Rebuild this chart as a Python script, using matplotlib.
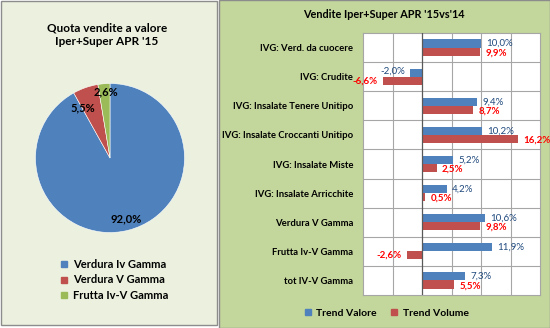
import matplotlib
matplotlib.use("Agg")
import matplotlib.pyplot as plt
from matplotlib.patches import Rectangle
from matplotlib.lines import Line2D
import numpy as np

plt.rcParams['font.family'] = ['Lato', 'DejaVu Sans']

# ---- data ----
pie_labels = ["Verdura Iv Gamma", "Verdura V Gamma", "Frutta Iv-V Gamma"]
pie_values = [92.0, 5.5, 2.6]
pie_colors = ["#4F81BD", "#C0504D", "#9BBB59"]

categories = ["IVG: Verd. da cuocere", "IVG: Crudite", "IVG: Insalate Tenere Unitipo",
              "IVG: Insalate Croccanti Unitipo", "IVG: Insalate Miste",
              "IVG: Insalate Arricchite", "Verdura V Gamma", "Frutta Iv-V Gamma",
              "tot IV-V Gamma"]
trend_valore = [10.0, -2.0, 9.4, 10.2, 5.2, 4.2, 10.6, 11.9, 7.3]
trend_volume = [9.9, -6.6, 8.7, 16.2, 2.5, 0.5, 9.8, -2.6, 5.5]
series_names = ["Trend Valore", "Trend Volume"]

W, H = 550, 328
fig = plt.figure(figsize=(W / 100, H / 100), dpi=100)
fig.patch.set_facecolor("white")

def fx(px): return px / W
def fy(py): return 1 - py / H

# panels
fig.patches.append(Rectangle((fx(0.5), fy(325)), fx(217) - fx(0.5), fy(0.5) - fy(325),
                             transform=fig.transFigure, facecolor="#EBF1DE",
                             edgecolor="#8C8C8C", lw=1, zorder=-5))
fig.patches.append(Rectangle((fx(219), fy(327.5)), fx(549.5) - fx(219), fy(0.5) - fy(327.5),
                             transform=fig.transFigure, facecolor="#C3D69B",
                             edgecolor="#8C8C8C", lw=1, zorder=-5))

# ---- pie ----
axp = fig.add_axes([fx(34), fy(234), 152 / W, 152 / H])
axp.set_aspect('equal')
wedges, _, autotexts = axp.pie(pie_values, colors=pie_colors, startangle=90, counterclock=False,
                               autopct=lambda p: "", pctdistance=0.85,
                               wedgeprops=dict(edgecolor="white", linewidth=0.4))
# label placement (angle shift in degrees, radius) like Excel "best fit"
label_place = [(0, 0.85), (9, 0.77), (-1, 0.89)]
for w, at, v, (da, r) in zip(wedges, autotexts, pie_values, label_place):
    ang = np.deg2rad((w.theta1 + w.theta2) / 2 + da)
    at.set_position((r * np.cos(ang), r * np.sin(ang)))
    at.set_text(f"{v:.1f}%".replace('.', ','))
    at.set_fontsize(8)
    at.set_fontweight('bold')
    at.set_color('black')
axp.set_xlim(-1.02, 1.02)
axp.set_ylim(-1.02, 1.02)

fig.text(fx(107), fy(35), "Quota vendite a valore\nIper+Super APR '15", ha='center', va='center',
         fontsize=8.5, fontweight='bold', linespacing=1.3)

handles = [Line2D([], [], marker='s', ls='none', color=c, markersize=5) for c in pie_colors]
fig.legend(handles, pie_labels, loc='upper left', bbox_to_anchor=(fx(60), fy(259)),
           frameon=False, handlelength=0.8, handletextpad=0.4,
           labelspacing=0.4, borderaxespad=0, borderpad=0,
           prop=dict(weight='bold', size=8))

# ---- bars ----
ax = fig.add_axes([fx(363), fy(295), (540 - 363) / W, (295 - 33) / H])
ax.set_facecolor("white")
y = np.arange(len(categories))
h = 0.28
ax.barh(y - h / 2, trend_valore, height=h, color="#4F81BD", zorder=3)
ax.barh(y + h / 2, trend_volume, height=h, color="#C0504D", zorder=3)
ax.set_xlim(-10, 20)
ax.set_ylim(len(categories) - 0.5, -0.5)
for xv in [-5, 5, 10, 15]:
    ax.axvline(xv, color="#A6A6A6", lw=0.8, zorder=1)
for yv in np.arange(0.5, len(categories) - 0.5, 1):
    ax.axhline(yv, color="#A6A6A6", lw=0.8, zorder=1)
ax.axvline(0, color="#595959", lw=0.9, zorder=4)
for s in ax.spines.values():
    s.set_color("#A6A6A6")
    s.set_linewidth(0.8)
ax.set_xticks([])
ax.set_yticks(y)
ax.set_yticklabels(categories, fontsize=6.8, fontweight='bold')
ax.tick_params(axis='y', length=0, pad=7)

off = 0.9
fs = 7
for yi, v in zip(y, trend_valore):
    t = f"{v:.1f}%".replace('.', ',')
    if v >= 0:
        ax.text(v + off, yi - h / 2, t, ha='left', va='center', fontsize=fs, color="#1F497D", zorder=5)
    else:
        ax.text(v - off, yi - h / 2 - 0.05, t, ha='right', va='center', fontsize=fs, color="#1F497D", zorder=5)
for yi, v in zip(y, trend_volume):
    t = f"{v:.1f}%".replace('.', ',')
    if v >= 0:
        ax.text(v + off, yi + h / 2 + 0.04, t, ha='left', va='center', fontsize=fs,
                color="#FF0000", fontweight='bold', zorder=5)
    else:
        ax.text(v - off, yi + h / 2, t, ha='right', va='center', fontsize=fs,
                color="#FF0000", fontweight='bold', zorder=5, clip_on=False)

fig.text(fx(384), fy(15), "Vendite Iper+Super APR '15vs'14", ha='center', va='center',
         fontsize=7.8, fontweight='bold')

bh = [Line2D([], [], marker='s', ls='none', color=c, markersize=5) for c in ["#4F81BD", "#C0504D"]]
fig.legend(bh, series_names, loc='center', bbox_to_anchor=(fx(386), fy(313)), ncol=2,
           frameon=False, handlelength=0.8, handletextpad=0.4, columnspacing=1.3,
           borderaxespad=0, borderpad=0, prop=dict(weight='bold', size=7.5))

fig.savefig("out.png", dpi=100, facecolor=fig.get_facecolor())
